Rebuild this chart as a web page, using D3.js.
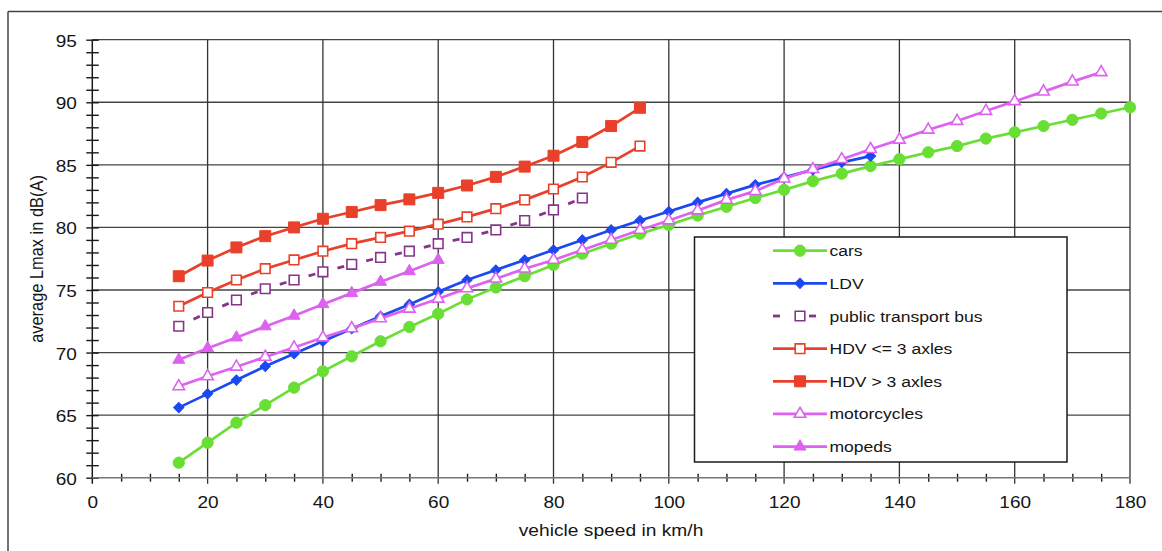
<!DOCTYPE html>
<html><head><meta charset="utf-8">
<script src="https://cdn.jsdelivr.net/npm/d3@7"></script>
<style>body{margin:0;background:#fff;} svg{display:block;font-family:"Liberation Sans",Arial,sans-serif;}</style>
</head><body><svg id="c" width="1162" height="551"></svg>
<script>
// ---- data ----
const speedsCars = [15,20,25,30,35,40,45,50,55,60,65,70,75,80,85,90,95,100,105,110,115,120,125,130,135,140,145,150,155,160,165,170,175,180];
const cars = [61.2,62.8,64.4,65.8,67.2,68.5,69.7,70.9,72.05,73.1,74.25,75.2,76.1,77.0,77.9,78.7,79.5,80.2,80.95,81.65,82.35,83.0,83.7,84.3,84.9,85.45,86.0,86.5,87.1,87.6,88.1,88.6,89.1,89.6];
const speedsLDV = [15,20,25,30,35,40,45,50,55,60,65,70,75,80,85,90,95,100,105,110,115,120,125,130,135];
const ldv = [65.6,66.7,67.8,68.9,69.9,70.9,71.9,72.9,73.85,74.85,75.8,76.6,77.4,78.2,79.0,79.8,80.55,81.27,82.0,82.7,83.4,84.0,84.6,85.2,85.7];
const speedsBus = [15,20,25,30,35,40,45,50,55,60,65,70,75,80,85];
const bus = [72.1,73.2,74.2,75.1,75.8,76.45,77.05,77.6,78.1,78.7,79.2,79.8,80.55,81.4,82.35];
const speedsHDV = [15,20,25,30,35,40,45,50,55,60,65,70,75,80,85,90,95];
const hdvSmall = [73.7,74.8,75.8,76.7,77.4,78.1,78.7,79.2,79.7,80.26,80.84,81.5,82.2,83.07,84.03,85.2,86.5];
const hdvLarge = [76.1,77.35,78.4,79.3,80.0,80.69,81.23,81.78,82.24,82.76,83.35,84.04,84.86,85.73,86.83,88.1,89.56];
const speedsMoto = [15,20,25,30,35,40,45,50,55,60,65,70,75,80,85,90,95,100,105,110,115,120,125,130,135,140,145,150,155,160,165,170,175];
const moto = [67.3,68.1,68.86,69.65,70.4,71.2,71.93,72.73,73.5,74.3,75.13,75.9,76.7,77.4,78.2,79.0,79.8,80.55,81.35,82.2,82.9,83.9,84.65,85.45,86.25,87.0,87.8,88.5,89.3,90.08,90.85,91.65,92.4];
const speedsMoped = [15,20,25,30,35,40,45,50,55,60];
const mopeds = [69.42,70.35,71.2,72.09,72.94,73.87,74.75,75.65,76.5,77.4];
const xTicks = [0,20,40,60,80,100,120,140,160,180];
const yTicks = [60,65,70,75,80,85,90,95];
const seriesNames = ["cars","LDV","public transport bus","HDV <= 3 axles","HDV > 3 axles","motorcycles","mopeds"];

// ---- setup ----
const svg = d3.select("#c");
const x = d3.scaleLinear().domain([0,180]).range([92.3,1130]);
const y = d3.scaleLinear().domain([60,95]).range([477.7,39.7]);
const SX = 1.12;
const TXT = "#151515";

const series = [
  {name:seriesNames[0], xs:speedsCars, ys:cars, color:"#69df35", mk:"circle", fill:true},
  {name:seriesNames[1], xs:speedsLDV, ys:ldv, color:"#1c48f0", mk:"diamond", fill:true},
  {name:seriesNames[2], xs:speedsBus, ys:bus, color:"#87358a", mk:"square", fill:false, dashed:true},
  {name:seriesNames[3], xs:speedsHDV, ys:hdvSmall, color:"#e8402a", mk:"square", fill:false},
  {name:seriesNames[4], xs:speedsHDV, ys:hdvLarge, color:"#e8402a", mk:"square", fill:true},
  {name:seriesNames[5], xs:speedsMoto, ys:moto, color:"#dd62ef", mk:"triangle", fill:false},
  {name:seriesNames[6], xs:speedsMoped, ys:mopeds, color:"#dd62ef", mk:"triangle", fill:true}
];

function symPath(s){
  if(s.mk==="circle") return d3.symbol(d3.symbolCircle, 100)();
  if(s.mk==="diamond") return d3.symbol(d3.symbolSquare, 52)();
  if(s.mk==="square") return d3.symbol(d3.symbolSquare, s.fill?121:92)();
  if(s.mk==="triangle") return d3.symbol(d3.symbolTriangle, s.fill?62:58)();
}
function drawMarker(g, s, px, py){
  const p = g.append("path").attr("d", symPath(s))
    .attr("transform", `translate(${px},${py})` + (s.mk==="diamond"?" rotate(45)":""));
  if(s.fill) p.attr("fill", s.color).attr("stroke", s.color).attr("stroke-width", 1);
  else p.attr("fill", "#fff").attr("stroke", s.color).attr("stroke-width", 1.6);
}

// frame
svg.append("line").attr("x1",8).attr("x2",1162).attr("y1",11.5).attr("y2",11.5).attr("stroke","#444").attr("stroke-width",1.5);
svg.append("line").attr("x1",8).attr("x2",8).attr("y1",11.5).attr("y2",551).attr("stroke","#444").attr("stroke-width",1.5);

// grid
const grid = svg.append("g");
yTicks.filter(v=>v>60).forEach(v=>{
  grid.append("line").attr("x1",x(0)).attr("x2",x(180)).attr("y1",y(v)).attr("y2",y(v))
    .attr("stroke","#444").attr("stroke-width",1.3);
});
xTicks.filter(v=>v>0).forEach(v=>{
  grid.append("line").attr("x1",x(v)).attr("x2",x(v)).attr("y1",y(95)).attr("y2",y(60)+6)
    .attr("stroke","#333").attr("stroke-width",1.3);
});

// axes (minor ticks)
const minorY = d3.range(60,96,1);
const axY = svg.append("g").attr("transform",`translate(${x(0)},0)`)
  .call(d3.axisLeft(y).tickValues(minorY).tickSize(6).tickFormat(""));
axY.select(".domain").remove();
axY.selectAll(".tick line").attr("x1",6.5).attr("x2",-6).attr("stroke","#1a1a1a").attr("stroke-width",1.4);
svg.append("line").attr("x1",x(0)).attr("x2",x(0)).attr("y1",y(95)).attr("y2",y(60)+6).attr("stroke","#1a1a1a").attr("stroke-width",1.5);

const minorX = d3.range(5,180,5).filter(v=>v%20!==0);
const axX = svg.append("g").attr("transform",`translate(0,${y(60)})`)
  .call(d3.axisBottom(x).tickValues(minorX).tickSize(4).tickFormat(""));
axX.select(".domain").remove();
axX.selectAll(".tick line").attr("y1",-4).attr("y2",4).attr("stroke","#1a1a1a").attr("stroke-width",1.4);
svg.append("line").attr("x1",x(0)).attr("x2",x(180)).attr("y1",y(60)).attr("y2",y(60)).attr("stroke","#777").attr("stroke-width",1.4);

// tick labels
const labY = svg.append("g").attr("transform",`translate(${x(0)},0)`)
  .call(d3.axisLeft(y).tickValues(yTicks).tickSize(0).tickFormat(d3.format("d")));
labY.select(".domain").remove();
labY.selectAll(".tick text").attr("x",0).attr("dy",null)
  .attr("transform",`translate(-15.5,6.5) scale(${SX},1)`)
  .attr("text-anchor","end").attr("font-size",17).attr("fill",TXT)
  .attr("font-family",'"Liberation Sans",Arial,sans-serif');
const labX = svg.append("g").attr("transform",`translate(0,${y(60)})`)
  .call(d3.axisBottom(x).tickValues(xTicks).tickSize(0).tickFormat(d3.format("d")));
labX.select(".domain").remove();
labX.selectAll(".tick text").attr("y",0).attr("dy",null)
  .attr("transform",`translate(0,30.5) scale(${SX},1)`)
  .attr("text-anchor","middle").attr("font-size",17).attr("fill",TXT)
  .attr("font-family",'"Liberation Sans",Arial,sans-serif');

// axis titles
svg.append("text").attr("transform",`translate(611,536) scale(1.13,1)`)
  .attr("text-anchor","middle").attr("font-size",17).attr("fill",TXT).text("vehicle speed in km/h");
svg.append("text").attr("transform",`translate(43,259) scale(1.12,1) rotate(-90)`)
  .attr("text-anchor","middle").attr("font-size",16.4).attr("fill",TXT).text("average Lmax in dB(A)");

// series
const line = d3.line();
series.forEach(s=>{
  const pts = s.xs.map((v,i)=>[x(v), y(s.ys[i])]);
  const g = svg.append("g");
  if(s.dashed){
    for(let i=0;i<pts.length-1;i++){
      const [x0,y0]=pts[i],[x1,y1]=pts[i+1];
      const dx=x1-x0, dy=y1-y0, L=Math.hypot(dx,dy), ux=dx/L, uy=dy/L;
      const cx=x0+dx*0.62, cy=y0+dy*0.62;
      g.append("line").attr("x1",cx-ux*3.5).attr("y1",cy-uy*3.5).attr("x2",cx+ux*3.5).attr("y2",cy+uy*3.5)
        .attr("stroke",s.color).attr("stroke-width",2.8);
    }
  } else {
    g.append("path").attr("d",line(pts)).attr("fill","none").attr("stroke",s.color).attr("stroke-width",2.7);
  }
  pts.forEach(p=>drawMarker(g,s,p[0],p[1]));
});

// legend
const lg = svg.append("g");
lg.append("rect").attr("x",694.5).attr("y",237).attr("width",372.5).attr("height",225)
  .attr("fill","#fff").attr("stroke","#1a1a1a").attr("stroke-width",1.5);
series.forEach((s,i)=>{
  const cy = 250.7 + i*32.65;
  if(s.dashed){
    lg.append("line").attr("x1",773).attr("x2",780).attr("y1",cy).attr("y2",cy).attr("stroke",s.color).attr("stroke-width",2.8);
    lg.append("line").attr("x1",809).attr("x2",816).attr("y1",cy).attr("y2",cy).attr("stroke",s.color).attr("stroke-width",2.8);
  } else {
    lg.append("line").attr("x1",773).attr("x2",827).attr("y1",cy).attr("y2",cy).attr("stroke",s.color).attr("stroke-width",2.7);
  }
  drawMarker(lg,s,800,cy);
  lg.append("text").attr("transform",`translate(829.5,${cy+5.5}) scale(1.17,1)`)
    .attr("font-size",15).attr("fill",TXT).text(s.name);
});
</script></body></html>
